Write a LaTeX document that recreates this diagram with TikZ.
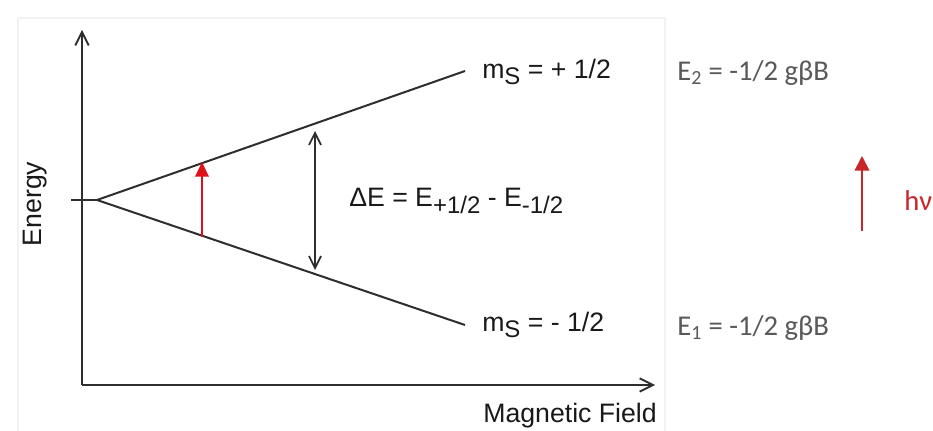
\documentclass[tikz,border=0pt]{standalone}
\usepackage{fontspec}
\setmainfont{Liberation Sans}
\newfontfamily\calib{Carlito}
\usetikzlibrary{arrows.meta}
\definecolor{axisgray}{HTML}{2E2E2E}
\definecolor{txtgray}{HTML}{595959}
\definecolor{arrred}{HTML}{E0101A}
\definecolor{hvred}{HTML}{C8262B}
\newcommand{\bigsub}[1]{\raisebox{-0.45ex}{\fontsize{18}{20}\selectfont #1}}
\tikzset{
  axisline/.style={draw=axisgray, line width=1.6pt, -{Straight Barb[length=10pt,width=10pt,line width=1.4pt]}},
  levelline/.style={draw=axisgray, line width=1.5pt},
  gapline/.style={draw=axisgray, line width=1.3pt, {Straight Barb[length=9pt,width=9pt,line width=1.3pt]}-{Straight Barb[length=9pt,width=9pt,line width=1.3pt]}},
  redarrow/.style={draw=arrred, line width=1.6pt, -{Triangle[length=11pt,width=10pt]}},
  hvarrow/.style={draw=hvred, line width=1.4pt, -{Triangle[length=11pt,width=11pt]}},
  lab/.style={inner sep=0pt, text=black!90, font=\fontsize{20}{24}\selectfont},
  rlab/.style={inner sep=0pt, text=txtgray, font=\calib\fontsize{21.5}{24}\selectfont},
}
\begin{document}
\begin{tikzpicture}[x=0.75pt, y=-0.75pt]
\useasboundingbox (0,0) rectangle (933,431);
\fill[white] (0,0) rectangle (933,431);
\draw[black!5, line width=0.8pt] (18,431) -- (18,18) -- (665,18) -- (665,431);
% axes
\coordinate (origin) at (82,385);
\coordinate (ytop) at (82,30);
\coordinate (xend) at (655,385);
\draw[axisline] (origin) -- (ytop);
\draw[axisline] (origin) -- (xend);
% levels
\coordinate (tick) at (71,200);
\coordinate (apex) at (97,200);
\coordinate (upend) at (465,71);
\coordinate (loend) at (465,325);
\draw[levelline] (tick) -- (apex);
\draw[levelline] (apex) -- (upend);
\draw[levelline] (apex) -- (loend);
% red transition arrow
\coordinate (rlow) at (202,237);
\coordinate (rup) at (202,162);
\draw[redarrow] (rlow) -- (rup);
% Delta E double arrow
\coordinate (gtop) at (315,131);
\coordinate (gbot) at (315,270);
\draw[gapline] (gbot) -- (gtop);
% labels
\node[lab, rotate=90] (energy) at (35,204) {Energy};
\node[lab, anchor=east] (mf) at (657,416) {Magnetic Field};
\node[lab, anchor=west] (mup) at (482,72) {m\bigsub{S} = + 1/2};
\node[lab, anchor=west] (mdn) at (482,325) {m\bigsub{S} = - 1/2};
\node[lab, anchor=west] (de) at (349,201) {ΔE = E\bigsub{+1/2} - E\bigsub{-1/2}};
% right side
\node[rlab, anchor=west] (e2) at (677,73) {E\textsubscript{2} = -1/2 gβB};
\node[rlab, anchor=west] (e1) at (677,328) {E\textsubscript{1} = -1/2 gβB};
\coordinate (hlow) at (862,231);
\coordinate (hup) at (862,156);
\draw[hvarrow] (hlow) -- (hup);
\node[rlab, text=hvred, anchor=west] (hv) at (904,201) {hν};
\end{tikzpicture}
\end{document}
